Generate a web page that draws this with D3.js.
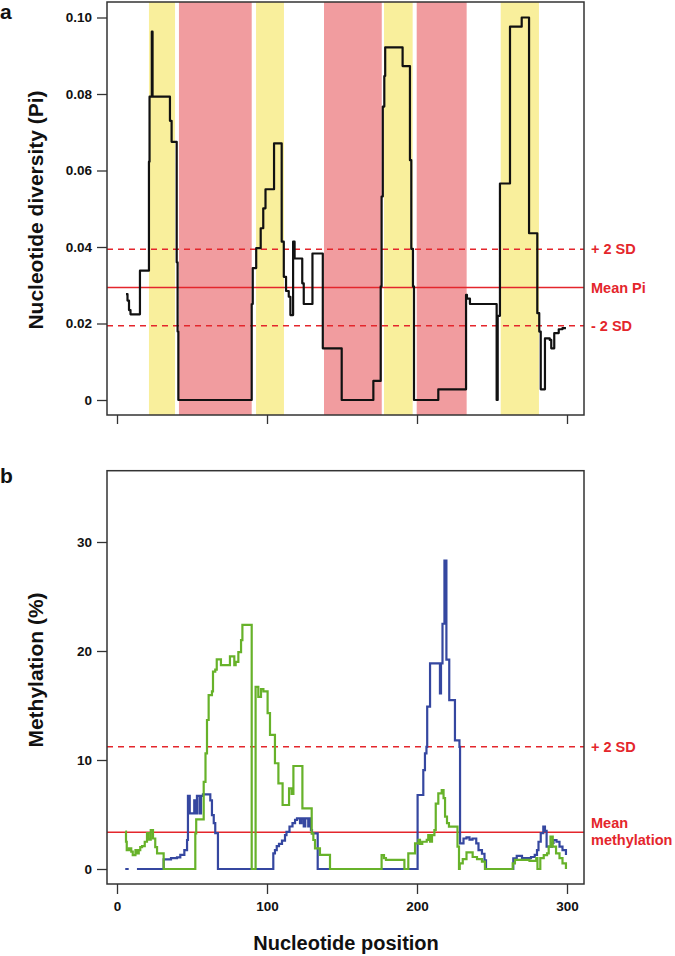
<!DOCTYPE html>
<html><head><meta charset="utf-8">
<script src="https://cdn.jsdelivr.net/npm/d3@7"></script>
<style>
html,body{margin:0;padding:0;background:#fff;}
svg{display:block;font-family:"Liberation Sans",Arial,sans-serif;font-weight:bold;}
</style></head>
<body>
<svg id="chart" width="675" height="956"></svg>
<script>
// ---------- DATA ----------
const xTicks = [0, 100, 200, 300];
const piTicks = [0, 0.02, 0.04, 0.06, 0.08, 0.10];
const piTickLabels = ["0", "0.02", "0.04", "0.06", "0.08", "0.10"];
const methTicks = [0, 10, 20, 30];

// coloured bands in panel a (nucleotide position)
const bandStart = [21.3, 41.3, 92.7, 138.0, 178.0, 199.8, 255.8];
const bandEnd   = [38.7, 89.8, 111.3, 176.5, 197.1, 233.1, 281.3];
const bandType  = ["y", "r", "y", "r", "y", "r", "y"];

// reference lines
const piRefVals = [0.0394, 0.0294, 0.0194];
const piRefLabels = ["+ 2 SD", "Mean Pi", "- 2 SD"];
const piRefDashed = [true, false, true];
const methRefVals = [11.22, 3.37];

// nucleotide diversity (step changes: position, value)
const piPos = [6, 7, 8, 9, 15.3, 21.3, 21.7, 23.2, 23.7, 35.3, 36.4, 39.8, 40.4, 40.9,
  89.8, 90.5, 92.8, 95.8, 97.5, 99.0, 104.7, 109.8, 111.2, 112.7, 114.5, 115.6, 117.4, 118.4,
  123.5, 124.5, 130.3, 137.2, 149.8, 170.9, 175.8, 176.4, 177.2, 178.2, 178.8, 190.4, 195.3,
  196.2, 197.3, 198.0, 214.2, 232.7, 233.3, 235.3, 253.1, 253.8, 255.3, 262.0, 269.8, 274.7,
  280.2, 281.5, 282.5, 285.3, 288.5, 289.5, 291.5, 294.5, 297, 299.3];
const piVal = [0.0277, 0.026, 0.0235, 0.0224, 0.0338, 0.0623, 0.0793, 0.0963, 0.0793, 0.073, 0.0675, 0.036, 0.0179, 0,
  0.0251, 0.0345, 0.0397, 0.0449, 0.0501, 0.0551, 0.0671, 0.0414, 0.0322, 0.0285, 0.027, 0.0222, 0.0414, 0.037,
  0.0305, 0.0251, 0.0383, 0.0135, 0, 0.005, 0.0297, 0.0532, 0.0767, 0.0847, 0.0922, 0.0873, 0.0627,
  0.0395, 0.0297, 0, 0.0028, 0.0275, 0.0265, 0.0251, 0, 0.022, 0.0566, 0.0976, 0.1, 0.0436,
  0.0227, 0.0179, 0.0028, 0.0161, 0.0157, 0.0135, 0.0175, 0.0185, 0.0188, 0.0188];

// methylation, blue series (null = gap)
const bluePos = [5.5, 7.8, 7.9, 13.3, 31.1, 36, 40, 42.2, 44.9, 46.7, 47.3, 48.5, 51.5, 52.3, 53.3, 55, 56, 57.3,
  62.2, 63.3, 64.5, 65.5, 67.3, 104.2, 105.3, 106.5, 108, 110, 112, 113, 115, 117, 118.7, 120, 122, 123,
  124.5, 125.5, 127.5, 128.3, 129.3, 130, 133.8, 200.4, 204.2, 205.3, 206.3, 206.8, 208.7, 215.3, 216,
  217, 218.3, 219.6, 221.5, 225.3, 228.3, 228.7, 231, 233, 235, 237, 239.5, 241, 243.3, 245, 246,
  264.2, 266.5, 270, 276, 278.5, 280, 281, 282.5, 284.2, 285.3, 286.4, 288.5, 290, 291, 293, 295, 297, 299.3];
const blueVal = [0, 0, null, 0, 0.89, 1.0, 1.07, 1.3, 1.74, 2.66, 6.7, 5.1, 6.3, 5.1, 6.7, 5.1, 6.7, 6.85,
  6.3, 4.95, 4.2, 3.3, 0, 1.44, 1.74, 2.1, 2.3, 2.6, 3.1, 3.4, 3.9, 4.2, 4.5, 4.65, 4.2, 4.65,
  3.9, 4.65, 3.9, 4.65, 3.58, 3.27, 0, 6.79, 9.08, 10.6, 11.2, 14.9, 18.87, 16.1, 18.87,
  22.5, 28.3, 19.2, 15.5, 11.8, 11.2, 2.36, 2.8, 2.9, 2.7, 2.8, 2.36, 1.74, 1.4, 0.8, 0,
  0.98, 1.2, 1.0, 1.1, 1.3, 1.74, 2.5, 3.3, 3.88, 3.5, 2.05, 2.05, 2.4, 2.66, 2.5, 2.05, 1.74, 1.28];

// methylation, green series
const greenPos = [5.5, 6, 6.5, 8, 9.5, 10.5, 12.3, 13.3, 14.5, 15.5, 16.7, 18.5, 20, 21, 22.5, 24, 25.5, 26.7, 31.1,
  52.2, 52.8, 57.8, 59, 60, 61.1, 63.3, 64, 65.5, 66.5, 69.3, 75.3, 78.2, 79.1, 80.9, 82.7, 83.6, 84.7, 89.8,
  92.4, 94.2, 96, 97.6, 100.4, 102, 105.3, 107.6, 110.4, 114.7, 116.4, 117.6, 123.6, 129.8, 130.9, 132, 135.3, 142,
  176.4, 178, 179.3, 191.6, 194.2, 198.7, 201, 202, 203.5, 206.5, 207.5, 208.7, 210, 211.6, 212.5, 214.2, 216.5,
  217.7, 218.7, 220, 221.3, 227, 228, 228.5, 230.5, 233, 237.1, 240, 243.3, 245.3,
  263.8, 265.3, 275, 279.5, 280.3, 282.2, 284.5, 286.7, 287.8, 289, 290.5, 292.7, 295, 297, 299.3];
const greenVal = [3.42, 2.5, 1.74, 1.9, 1.6, 1.28, 1.74, 1.44, 1.74, 2.0, 2.1, 2.5, 3.3, 2.7, 3.58, 2.8, 2.0, 1.44, 0,
  3.27, 4.56, 8.0, 10.6, 13.67, 15.96, 16.3, 18.1, 18.3, 19.24, 18.7, 19.5, 18.7, 19.0, 19.9, 21.0, 22.4, 22.4, 0,
  16.7, 15.8, 16.5, 16.3, 14.3, 12.3, 9.7, 7.86, 5.87, 7.4, 6.9, 9.45, 5.56, 3.27, 2.66, 1.9, 1.3, 0,
  1.28, 1.0, 0.83, 0, 1.44, 2.35, 2.67, 2.3, 2.5, 2.67, 3.1, 2.5, 3.1, 3.58, 6.0, 6.94, 7.25,
  6.5, 4.8, 4.2, 3.88, 2.05, 0, 0.52, 0.9, 1.53, 1.1, 0.9, 0.67, 0,
  0.52, 0.83, 0.75, 1.0, 0, 1.0, 1.28, 1.44, 2.05, 2.97, 2.05, 1.44, 1.0, 0.52, 0];

// ---------- DRAW ----------
const svg = d3.select("#chart");
const RED = "#e4262c", BLACK = "#111", BOXC = "#333";
const YEL = "#f9ef9c", PINK = "#f19c9f";
const BLUE = "#3547a0", GREEN = "#67b22a";
const boxL = 107, boxR = 584;
const x = d3.scaleLinear().domain([0, 300]).range([117, 567]);

function zipData(pos, val) { return pos.map((p, i) => ({p, v: val[i]})); }

// ===== Panel a =====
const aTop = 2, aBot = 415;
const yA = d3.scaleLinear().domain([0, 0.1]).range([400, 17.5]);

svg.append("clipPath").attr("id", "clipA").append("rect")
  .attr("x", boxL).attr("y", aTop).attr("width", boxR - boxL).attr("height", aBot - aTop);

const gA = svg.append("g").attr("clip-path", "url(#clipA)");
gA.selectAll("rect.band").data(bandStart).join("rect")
  .attr("x", (d) => x(d)).attr("y", aTop)
  .attr("width", (d, i) => x(bandEnd[i]) - x(d)).attr("height", aBot - aTop)
  .attr("fill", (d, i) => bandType[i] === "y" ? YEL : PINK);

gA.selectAll("line.ref").data(piRefVals).join("line")
  .attr("x1", boxL).attr("x2", boxR)
  .attr("y1", (d) => yA(d)).attr("y2", (d) => yA(d))
  .attr("stroke", RED).attr("stroke-width", 1.6)
  .attr("stroke-dasharray", (d, i) => piRefDashed[i] ? "6,5" : null);

const lineA = d3.line().x((d) => x(d.p)).y((d) => yA(d.v)).curve(d3.curveStepAfter);
gA.append("path").datum(zipData(piPos, piVal)).attr("d", lineA)
  .attr("fill", "none").attr("stroke", BLACK).attr("stroke-width", 2.2).attr("stroke-linejoin", "round");

svg.append("rect").attr("x", boxL).attr("y", aTop).attr("width", boxR - boxL).attr("height", aBot - aTop)
  .attr("fill", "none").attr("stroke", BOXC).attr("stroke-width", 1.5);

// y axis a
const axA = svg.append("g").attr("transform", `translate(${boxL},0)`)
  .call(d3.axisLeft(yA).tickValues(piTicks).tickFormat((d, i) => piTickLabels[i]).tickSize(10).tickPadding(5));
axA.select(".domain").remove();
axA.selectAll("line").attr("stroke", BOXC).attr("stroke-width", 1.3);
axA.selectAll("text").attr("font-size", 13.5).attr("font-weight", "bold").attr("fill", "#111")
  .attr("font-family", "Liberation Sans, Arial, sans-serif");

// x axis a (ticks only)
const axAx = svg.append("g").attr("transform", `translate(0,${aBot})`)
  .call(d3.axisBottom(x).tickValues(xTicks).tickFormat("").tickSize(9));
axAx.select(".domain").remove();
axAx.selectAll("line").attr("stroke", BOXC).attr("stroke-width", 1.3);

// ref labels a
svg.selectAll("text.refA").data(piRefLabels).join("text")
  .attr("x", 591).attr("y", (d, i) => yA(piRefVals[i]) + 5)
  .attr("fill", RED).attr("font-size", 14.5).text((d) => d);

svg.append("text").attr("x", 0).attr("y", 19).attr("font-size", 21).attr("fill", "#111").text("a");
svg.append("text").attr("transform", "translate(43,210) rotate(-90)").attr("text-anchor", "middle")
  .attr("font-size", 21).attr("fill", "#111").text("Nucleotide diversity (Pi)");

// ===== Panel b =====
const bTop = 470.7, bBot = 884;
const yB = d3.scaleLinear().domain([0, 30]).range([869, 542]);

svg.append("clipPath").attr("id", "clipB").append("rect")
  .attr("x", boxL).attr("y", bTop).attr("width", boxR - boxL).attr("height", bBot - bTop);
const gB = svg.append("g").attr("clip-path", "url(#clipB)");

gB.selectAll("line.ref").data(methRefVals).join("line")
  .attr("x1", boxL).attr("x2", boxR)
  .attr("y1", (d) => yB(d)).attr("y2", (d) => yB(d))
  .attr("stroke", RED).attr("stroke-width", 1.6)
  .attr("stroke-dasharray", (d, i) => i === 0 ? "6,5" : null);

const lineB = d3.line().defined((d) => d.v !== null).x((d) => x(d.p)).y((d) => yB(d.v)).curve(d3.curveStepAfter);
gB.append("path").datum(zipData(bluePos, blueVal)).attr("d", lineB)
  .attr("fill", "none").attr("stroke", BLUE).attr("stroke-width", 2.2);
gB.append("path").datum(zipData(greenPos, greenVal)).attr("d", lineB)
  .attr("fill", "none").attr("stroke", GREEN).attr("stroke-width", 2.2);

svg.append("rect").attr("x", boxL).attr("y", bTop).attr("width", boxR - boxL).attr("height", bBot - bTop)
  .attr("fill", "none").attr("stroke", BOXC).attr("stroke-width", 1.5);

const axB = svg.append("g").attr("transform", `translate(${boxL},0)`)
  .call(d3.axisLeft(yB).tickValues(methTicks).tickFormat(d3.format("d")).tickSize(10).tickPadding(5));
axB.select(".domain").remove();
axB.selectAll("line").attr("stroke", BOXC).attr("stroke-width", 1.3);
axB.selectAll("text").attr("font-size", 13.5).attr("font-weight", "bold").attr("fill", "#111")
  .attr("font-family", "Liberation Sans, Arial, sans-serif");

const axBx = svg.append("g").attr("transform", `translate(0,${bBot})`)
  .call(d3.axisBottom(x).tickValues(xTicks).tickFormat(d3.format("d")).tickSize(10).tickPadding(7));
axBx.select(".domain").remove();
axBx.selectAll("line").attr("stroke", BOXC).attr("stroke-width", 1.3);
axBx.selectAll("text").attr("font-size", 13.5).attr("font-weight", "bold").attr("fill", "#111")
  .attr("font-family", "Liberation Sans, Arial, sans-serif");

svg.append("text").attr("x", 591).attr("y", yB(methRefVals[0]) + 5)
  .attr("fill", RED).attr("font-size", 14.5).text("+ 2 SD");
svg.append("text").attr("x", 591).attr("y", yB(methRefVals[1]) - 4)
  .attr("fill", RED).attr("font-size", 14.5).text("Mean");
svg.append("text").attr("x", 591).attr("y", yB(methRefVals[1]) + 13)
  .attr("fill", RED).attr("font-size", 14.5).text("methylation");

svg.append("text").attr("x", 0).attr("y", 483).attr("font-size", 21).attr("fill", "#111").text("b");
svg.append("text").attr("transform", "translate(43,670) rotate(-90)").attr("text-anchor", "middle")
  .attr("font-size", 21).attr("fill", "#111").text("Methylation (%)");
svg.append("text").attr("x", 346).attr("y", 950).attr("text-anchor", "middle")
  .attr("font-size", 20).attr("fill", "#111").text("Nucleotide position");
</script>
</body></html>
